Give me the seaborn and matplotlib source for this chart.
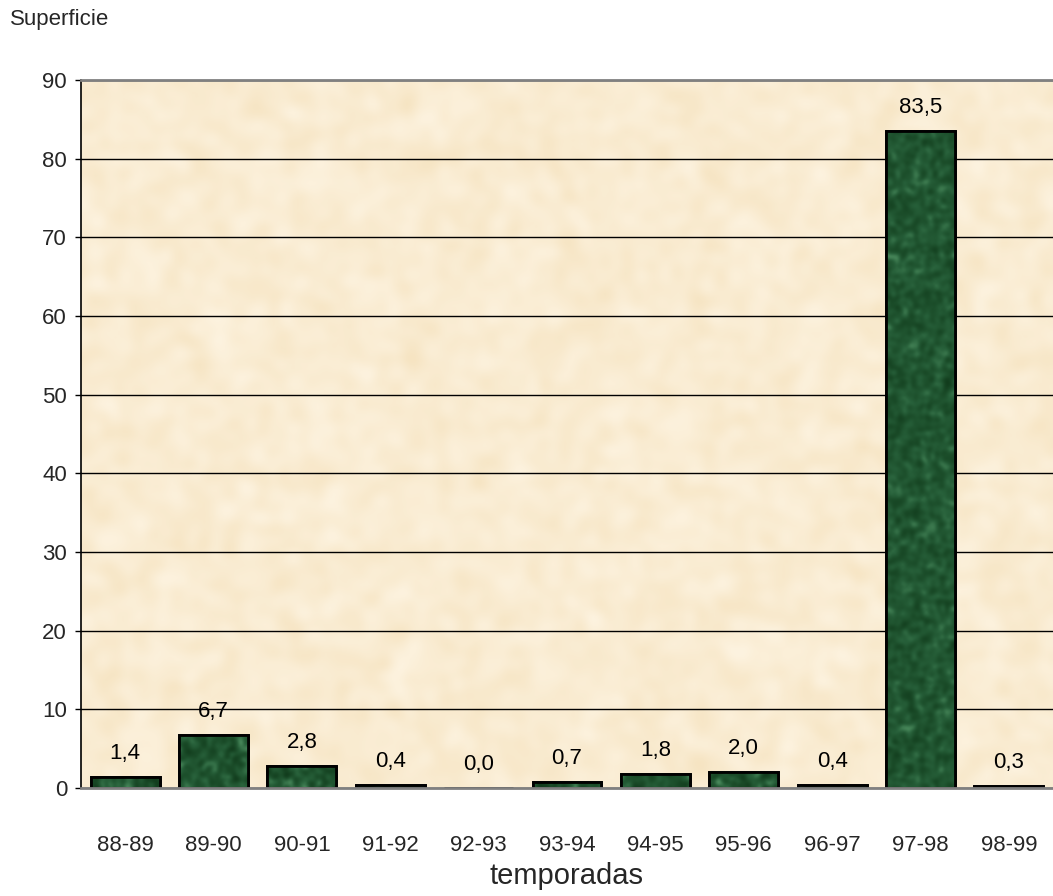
import matplotlib
matplotlib.use("Agg")
import matplotlib.pyplot as plt
import numpy as np
import seaborn as sns
import pandas as pd
from matplotlib.colors import LinearSegmentedColormap

temporadas = ["88-89", "89-90", "90-91", "91-92", "92-93", "93-94",
              "94-95", "95-96", "96-97", "97-98", "98-99"]
superficie = [1.4, 6.7, 2.8, 0.4, 0.0, 0.7, 1.8, 2.0, 0.4, 83.5, 0.3]
yticks = [0, 10, 20, 30, 40, 50, 60, 70, 80, 90]

df = pd.DataFrame({"temporadas": temporadas, "superficie": superficie})

sns.set_theme(style="white")
plt.rcParams["font.family"] = ["Liberation Sans", "DejaVu Sans"]


def mottled(shape, seed, passes=3):
    """Smooth noise field in [0, 1] used for the marble-like fills."""
    rng = np.random.default_rng(seed)
    field = rng.random(shape)
    for _ in range(passes):
        field = (field + np.roll(field, 1, 0) + np.roll(field, -1, 0)
                 + np.roll(field, 1, 1) + np.roll(field, -1, 1)) / 5
    field -= field.min()
    return field / field.max()


fig = plt.figure(figsize=(10.53, 8.96), dpi=100)
ax = fig.add_axes([81 / 1053, 1 - 788 / 896, 1 - 81 / 1053, (788 - 80) / 896])

sns.barplot(data=df, x="temporadas", y="superficie", color="#215531",
            saturation=1, width=0.78, edgecolor="black", linewidth=2,
            ax=ax, zorder=3)

ax.set_ylim(0, 90)
ax.set_yticks(yticks)
ax.set_xlim(-0.5, len(temporadas) - 0.5)

# parchment background
paper = LinearSegmentedColormap.from_list("paper", ["#F6E4C2", "#FDF3E0"])
ax.imshow(mottled((180, 240), 7, passes=6), cmap=paper, aspect="auto",
          extent=(-0.5, len(temporadas) - 0.5, 0, 90), zorder=0,
          interpolation="bilinear")

# green marble texture inside each bar
marble = LinearSegmentedColormap.from_list(
    "marble", ["#113B1C", "#1A4B28", "#27603A", "#4C8C5E"])
for k, bar in enumerate(ax.patches):
    x0, y0 = bar.get_x(), bar.get_y()
    w, h = bar.get_width(), bar.get_height()
    if h <= 0:
        continue
    img = ax.imshow(mottled((max(int(h * 4), 4), 35), 100 + k, passes=3),
                    cmap=marble, aspect="auto", zorder=3.5,
                    extent=(x0, x0 + w, y0, y0 + h), interpolation="bicubic")
    img.set_clip_path(bar)
    edge = plt.Rectangle((x0, y0), w, h, fill=False, edgecolor="black",
                         linewidth=2, zorder=4)
    ax.add_patch(edge)

ax.set_xlim(-0.5, len(temporadas) - 0.5)
ax.set_ylim(0, 90)
ax.yaxis.grid(True, color="black", linewidth=1.0, zorder=1)
for line in ax.get_ygridlines():
    line.set_zorder(1)
ax.set_axisbelow(False)

for i, v in enumerate(superficie):
    ax.annotate(f"{v:.1f}".replace(".", ","), (i, v), xytext=(0, 13),
                textcoords="offset points", ha="center", va="baseline",
                fontsize=16, color="black", zorder=5)

ax.tick_params(axis="y", left=True, length=4, width=1, color="black",
               labelsize=16, pad=6)
ax.tick_params(axis="x", bottom=False, labelsize=16, pad=28)
ax.set_xlabel("temporadas", fontsize=21, labelpad=4)
ax.set_ylabel("")

for side in ["top", "bottom"]:
    ax.spines[side].set_color("#808080")
    ax.spines[side].set_linewidth(2)
    ax.spines[side].set_zorder(6)
ax.spines["left"].set_color("black")
ax.spines["left"].set_linewidth(1.2)
ax.spines["right"].set_visible(False)

fig.text(10 / 1053, 1 - 20 / 896, "Superficie", fontsize=16, ha="left",
         va="center")

fig.savefig("out.png", dpi=100)
